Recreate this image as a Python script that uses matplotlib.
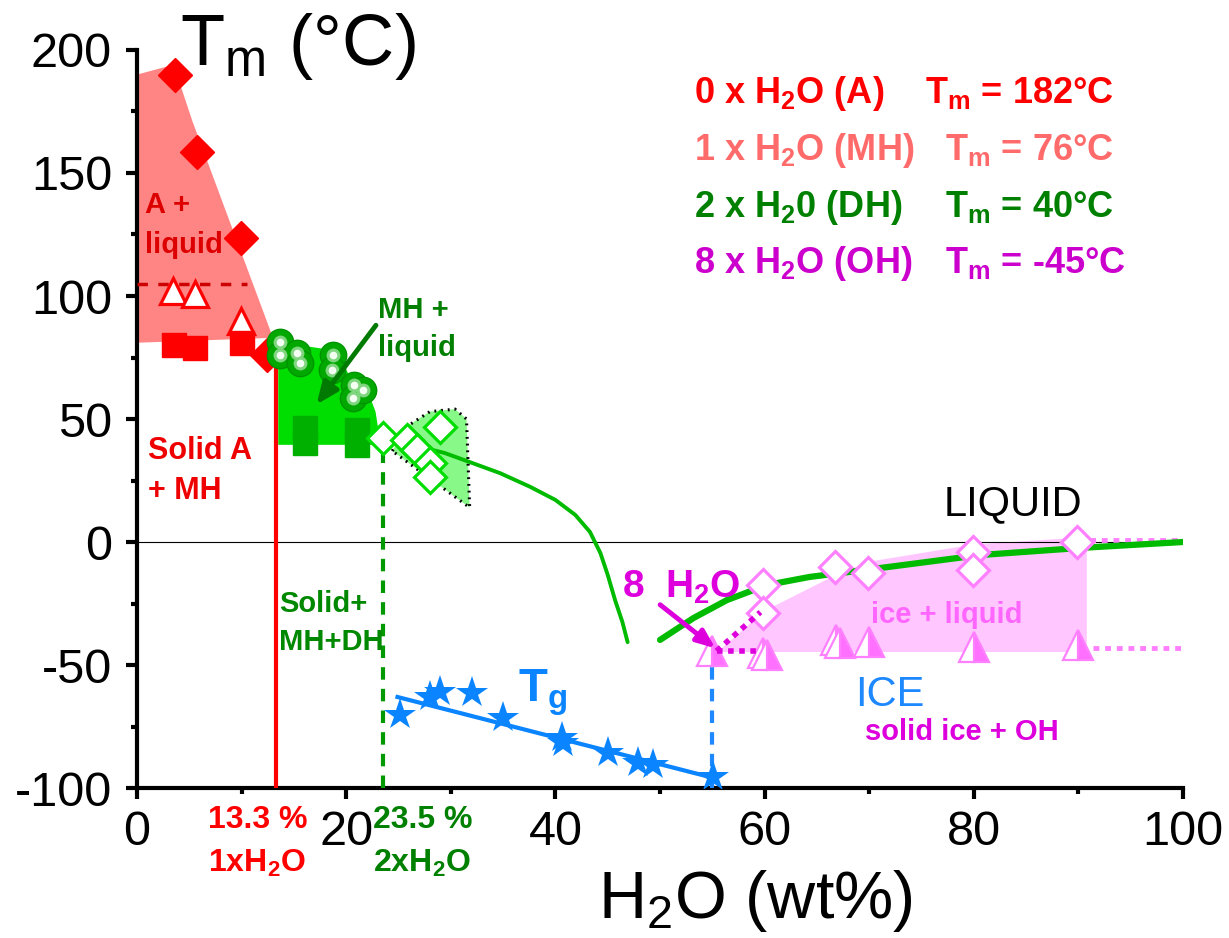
import matplotlib
matplotlib.use("Agg")
import matplotlib.pyplot as plt
from matplotlib.patches import Polygon

plt.rcParams['font.family'] = ['Liberation Sans', 'DejaVu Sans']
plt.rcParams['mathtext.fontset'] = 'custom'
plt.rcParams['mathtext.rm'] = 'Liberation Sans'
plt.rcParams['mathtext.bf'] = 'Liberation Sans:bold'
plt.rcParams['mathtext.it'] = 'Liberation Sans:italic'
plt.rcParams['axes.unicode_minus'] = False

# ---------------- data ----------------
# anhydrous (A) liquidus
a_x = [3.6, 5.7, 9.9, 12.4]
a_y = [189.8, 158.5, 123.6, 76.0]
a_region_x = [0, 3.5, 5.3, 13.0, 0]
a_region_y = [190, 194, 171, 83, 81]
a_open_tri_x = [3.4, 5.5, 9.9]
a_open_tri_y = [102, 101, 90]
a_sq_x = [3.5, 5.5, 10.0]
a_sq_y = [80, 79, 81]
a_dash_x = [0, 10.5]
a_dash_y = [105, 105]
mh_line_x = [13.3, 13.3]
mh_line_y = [-100, 77]

# monohydrate (MH)
mh_ball_x = [13.7, 13.7, 15.3, 15.6, 18.7, 18.6, 20.7, 20.6, 21.6]
mh_ball_y = [81.3, 76.0, 76.8, 72.8, 76.0, 69.9, 63.8, 58.5, 61.8]
mh_region_x = [13.5, 15.5, 18.7, 20.6, 22.0, 22.8, 23.3, 13.5]
mh_region_y = [84, 80, 78, 66, 62, 53, 39.5, 39.5]
mh_sq_x = [16.1, 16.1, 21.0, 21.0]
mh_sq_y = [46.3, 40.2, 45.5, 39.4]

# dihydrate (DH)
dh_dia_x = [23.5, 25.8, 26.8, 29.0, 28.0, 28.0]
dh_dia_y = [42.3, 41.5, 37.4, 46.7, 32.1, 26.4]
dh_region_x = [24.4, 25.8, 28.0, 30.4, 31.5, 31.8]
dh_region_y = [37, 47, 53, 54, 50, 14]
dh_line_x = [23.5, 23.5]
dh_line_y = [-100, 42]
liq1_x = [24.9, 27.1, 29.4, 31.8, 34.7, 37.6, 40.0, 41.9, 43.3, 44.3, 45.0,
          45.7, 46.4, 46.9]
liq1_y = [40.2, 38.6, 36.2, 32.5, 28.0, 22.4, 17.1, 11.0, 4.1, -4.5, -13.4,
          -23.6, -32.5, -40.7]

# octahydrate (OH) / ice
liq2_x = [50.0, 53.2, 56.4, 60.2, 64.3, 71.0, 80.6, 90.2, 100.0]
liq2_y = [-39.8, -30.9, -23.6, -17.5, -14.2, -10.6, -5.3, -2.4, 0.0]
ice_dia_x = [59.8, 59.8, 66.7, 69.9, 79.9, 79.9, 89.9]
ice_dia_y = [-17.5, -28.9, -10.2, -12.6, -4.1, -11.4, 0.0]
ice_tri_x = [55.0, 59.8, 60.2, 66.8, 67.2, 70.0, 80.0, 90.0]
ice_tri_y = [-44.5, -45.0, -46.0, -40.0, -41.0, -40.5, -42.5, -42.0]
ice_region_x = [55.5, 60, 67, 70, 80, 90.8, 90.8]
ice_region_y = [-44.7, -28, -13, -8, -1, 2, -44.7]
ice_dot_top_x = [90, 100]
ice_dot_top_y = [1, 1]
ice_dot_bot_x = [91.4, 100]
ice_dot_bot_y = [-43, -43]
oh_dot_h_x = [55.4, 59.6]
oh_dot_h_y = [-44.3, -44.3]
oh_dot_d_x = [55.4, 59.6]
oh_dot_d_y = [-44.3, -28.5]
oh_line_x = [55.0, 55.0]
oh_line_y = [-100, -45]

# glass transition
tg_x = [25.1, 28.0, 29.0, 32.0, 35.0, 40.6, 40.7, 45.0, 47.9, 49.3, 55.1]
tg_y = [-70.3, -63.0, -61.0, -61.4, -71.5, -79.7, -81.7, -85.8, -89.8, -90.7, -95.5]
tg_fit_x = [24.9, 55.2]
tg_fit_y = [-63.0, -96.0]

x_ticks = [0, 20, 40, 60, 80, 100]
y_ticks = [-100, -50, 0, 50, 100, 150, 200]

legend_left = [r"0 x H$_\mathbf{2}$O (A)", r"1 x H$_\mathbf{2}$O (MH)",
               r"2 x H$_\mathbf{2}$0 (DH)", r"8 x H$_\mathbf{2}$O (OH)"]
legend_right = [r"T$_\mathbf{m}$ = 182°C", r"T$_\mathbf{m}$ = 76°C",
                r"T$_\mathbf{m}$ = 40°C", r"T$_\mathbf{m}$ = -45°C"]
legend_colors = ['#FF0000', '#FF6B6B', '#008000', '#CC00CC']

# ---------------- figure ----------------
fig = plt.figure(figsize=(12.29, 9.38), dpi=100)
ax = fig.add_axes([0.1115, 0.1599, 0.8511, 0.7868])
ax.set_xlim(0, 100)
ax.set_ylim(-100, 200)
for s in ['top', 'right']:
    ax.spines[s].set_visible(False)
for s in ['left', 'bottom']:
    ax.spines[s].set_linewidth(3)
ax.set_xticks(x_ticks)
ax.set_yticks(y_ticks)
ax.set_xticks([10, 30, 50, 70, 90], minor=True)
ax.set_yticks([-75, -25, 25, 75, 125, 175], minor=True)
ax.tick_params(which='major', length=8, width=3, labelsize=35, pad=8)
ax.tick_params(axis='y', which='major', pad=10)
ax.tick_params(which='minor', length=4.5, width=3)

ax.axhline(0, color='black', lw=0.8, zorder=2)

# regions
ax.add_patch(Polygon(list(zip(a_region_x, a_region_y)), closed=True,
                     facecolor='#FF8585', edgecolor='none', zorder=1))
ax.add_patch(Polygon(list(zip(mh_region_x, mh_region_y)), closed=True,
                     facecolor='#00DD00', edgecolor='none', zorder=1))
ax.add_patch(Polygon(list(zip(dh_region_x, dh_region_y)), closed=True,
                     facecolor='#88F888', edgecolor='black', lw=2.2,
                     linestyle=(0, (0.6, 1.6)), zorder=1))
ax.add_patch(Polygon(list(zip(ice_region_x, ice_region_y)), closed=True,
                     facecolor='#FFC6FF', edgecolor='none', zorder=1))

# lines
ax.plot(a_dash_x, a_dash_y, color='#CC0000', lw=2.5, dashes=(3, 3), zorder=3)
ax.plot(mh_line_x, mh_line_y, color='#FF0000', lw=3, zorder=3)
ax.plot(dh_line_x, dh_line_y, color='#009900', lw=3, dashes=(3, 2.2), zorder=3)
ax.plot(oh_line_x, oh_line_y, color='#1E88FF', lw=3, dashes=(3, 2.2), zorder=3)
ax.plot(liq1_x, liq1_y, color='#00BB00', lw=2.8, zorder=4,
        solid_capstyle='round', solid_joinstyle='round')
ax.plot(liq2_x, liq2_y, color='#00BB00', lw=4.5, zorder=4,
        solid_capstyle='round', solid_joinstyle='round')
ax.plot(ice_dot_top_x, ice_dot_top_y, color='#FF80FF', lw=3.5, dashes=(1.2, 1.2), zorder=3)
ax.plot(ice_dot_bot_x, ice_dot_bot_y, color='#FF80FF', lw=3.5, dashes=(1.2, 1.2), zorder=3)
ax.plot(oh_dot_h_x, oh_dot_h_y, color='#DD00DD', lw=4, dashes=(1.0, 1.0), zorder=6)
ax.plot(oh_dot_d_x, oh_dot_d_y, color='#DD00DD', lw=4, dashes=(1.0, 1.0), zorder=6)
ax.plot(tg_fit_x, tg_fit_y, color='#0A84FF', lw=3, zorder=4)

# markers
ax.plot(a_x, a_y, 'D', color='#FF0000', ms=17.5, mec='#FF0000', zorder=5, ls='none')
ax.plot(a_open_tri_x, a_open_tri_y, '^', ms=19, mfc='white', mec='#FF0000', mew=2.3,
        zorder=5, ls='none')
ax.plot(a_sq_x, a_sq_y, 's', ms=17, color='#FF0000', zorder=5, ls='none')
ax.plot(mh_sq_x, mh_sq_y, 's', ms=17, color='#00B000', zorder=3, ls='none')
ax.plot(mh_ball_x, mh_ball_y, 'o', ms=19, color='#00A800', mec='#009500', mew=1,
        zorder=6, ls='none')
ax.plot(mh_ball_x, mh_ball_y, 'o', ms=10, color='#7FD67F', mew=0, zorder=7, ls='none')
ax.plot(mh_ball_x, mh_ball_y, 'o', ms=5.5, color='#F4FFF4', mew=0, zorder=8, ls='none')
ax.plot(dh_dia_x, dh_dia_y, 'D', ms=16, mfc='white', mec='#00DD00', mew=2.3,
        zorder=5, ls='none')
ax.plot(ice_dia_x, ice_dia_y, 'D', ms=16.5, mfc='white', mec='#FF80FF', mew=2.3,
        zorder=5, ls='none')
ax.plot(ice_tri_x, ice_tri_y, '^', ms=22, fillstyle='right', mfc='#FF70FF',
        mfcalt='white', mec='#FF80FF', mew=1.6, zorder=5, ls='none')
ax.plot(tg_x, tg_y, '*', ms=24, color='#0A84FF', mew=0, zorder=5, ls='none')

# arrows
ax.annotate('', xy=(17.0, 55.0), xytext=(23.0, 89.0),
            arrowprops=dict(arrowstyle='-|>,head_length=1.3,head_width=0.55',
                            color='#007A00', lw=3.5), zorder=9)
ax.annotate('', xy=(55.5, -43.9), xytext=(49.8, -24.8),
            arrowprops=dict(arrowstyle='-|>,head_length=1.1,head_width=0.45',
                            color='#DD00DD', lw=3.5), zorder=9)

# labels inside plot
kw = dict(fontweight='bold', zorder=10)
ax.text(0.76, 133.7, 'A +', color='#DD0000', fontsize=21, va='baseline', **kw)
ax.text(0.76, 117.5, 'liquid', color='#DD0000', fontsize=21, va='baseline', **kw)
ax.text(1.05, 33.7, 'Solid A', color='#EE0000', fontsize=22, va='baseline', **kw)
ax.text(1.05, 17.5, '+ MH', color='#EE0000', fontsize=22, va='baseline', **kw)
ax.text(23.0, 91.0, 'MH +', color='#007F00', fontsize=21, va='baseline', **kw)
ax.text(23.0, 75.5, 'liquid', color='#007F00', fontsize=21, va='baseline', **kw)
ax.text(13.6, -28.5, 'Solid+', color='#008800', fontsize=21, va='baseline', **kw)
ax.text(13.6, -43.9, 'MH+DH', color='#008800', fontsize=21, va='baseline', **kw)
ax.text(46.4, -22.8, r'8  H$_\mathbf{2}$O', color='#DD00DD', fontsize=28,
        va='baseline', **kw)
ax.text(77.4, -32.9, 'ice + liquid', color='#FF66FF', fontsize=21, ha='center',
        va='baseline', **kw)
ax.text(78.9, -80.5, 'solid ice + OH', color='#DD00DD', fontsize=21, ha='center',
        va='baseline', **kw)
ax.text(72.0, -66.5, 'ICE', color='#1E88FF', fontsize=30, ha='center',
        va='baseline', zorder=10)
ax.text(83.7, 11.0, 'LIQUID', color='black', fontsize=30, ha='center',
        va='baseline', zorder=10)
ax.text(36.4, -65.0, r'T$_\mathbf{g}$', color='#0A84FF', fontsize=34,
        va='baseline', **kw)

# labels below axis
ax.text(6.8, -116.3, '13.3 %', color='#FF0000', fontsize=23, va='baseline',
        clip_on=False, **kw)
ax.text(6.8, -134.1, r'1xH$_\mathbf{2}$O', color='#FF0000', fontsize=23,
        va='baseline', clip_on=False, **kw)
ax.text(22.6, -116.3, '23.5 %', color='#008000', fontsize=23, va='baseline',
        clip_on=False, **kw)
ax.text(22.6, -134.1, r'2xH$_\mathbf{2}$O', color='#008000', fontsize=23,
        va='baseline', clip_on=False, **kw)

# legend-like text block
leg_y = [178.5, 155.3, 132.1, 109.3]
leg_xr = [75.3, 77.2, 77.2, 77.2]
for i in range(4):
    ax.text(53.2, leg_y[i], legend_left[i], color=legend_colors[i], fontsize=26,
            va='baseline', **kw)
    ax.text(leg_xr[i], leg_y[i], legend_right[i], color=legend_colors[i],
            fontsize=26, va='baseline', **kw)

# axis titles
fig.text(0.1465, 0.9307, r'T$_\mathrm{m}$ (°C)', fontsize=52, va='baseline')
fig.text(0.4866, 0.0213, r'H$_\mathrm{2}$O (wt%)', fontsize=48, va='baseline')

fig.savefig('out.png', dpi=100)
